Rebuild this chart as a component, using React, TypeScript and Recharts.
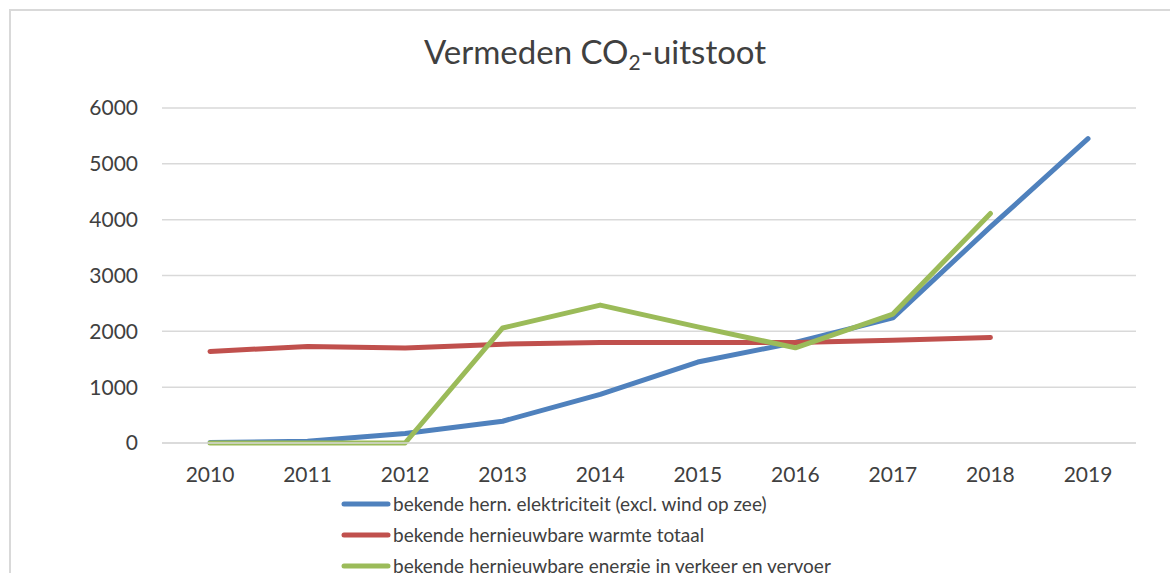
import React from "react";
import { LineChart, Line, XAxis, YAxis, CartesianGrid, Legend } from "recharts";

const years = ["2010", "2011", "2012", "2013", "2014", "2015", "2016", "2017", "2018", "2019"];
const elektriciteit = [10, 30, 170, 390, 870, 1450, 1800, 2240, 3870, 5450];
const warmte = [1640, 1730, 1700, 1770, 1800, 1800, 1800, 1840, 1890, null];
const verkeer = [0, 0, 0, 2060, 2470, 2080, 1705, 2310, 4110, null];
const yTicks = [0, 1000, 2000, 3000, 4000, 5000, 6000];

const seriesOrder = ["elektriciteit", "warmte", "verkeer"];
const seriesNames = {
  elektriciteit: "bekende hern. elektriciteit (excl. wind op zee)",
  warmte: "bekende hernieuwbare warmte totaal",
  verkeer: "bekende hernieuwbare energie in verkeer en vervoer",
};

const data = years.map((year, i) => ({
  year,
  elektriciteit: elektriciteit[i],
  warmte: warmte[i],
  verkeer: verkeer[i],
}));

const FONT = "Lato, 'Open Sans', sans-serif";
const TEXT = "#404040";

function LegendList({ payload }: any) {
  const items = [...(payload || [])].sort(
    (a: any, b: any) => seriesOrder.indexOf(a.dataKey) - seriesOrder.indexOf(b.dataKey)
  );
  return (
    <div style={{ fontFamily: FONT, fontSize: 19, color: TEXT }}>
      {items.map((p: any) => (
        <div key={p.value} style={{ display: "flex", alignItems: "center", height: 31 }}>
          <svg width={50} height={10} style={{ marginRight: 2 }}>
            <line x1={3} y1={5} x2={47} y2={5} stroke={p.color} strokeWidth={5} strokeLinecap="round" />
          </svg>
          <span>{p.value}</span>
        </div>
      ))}
    </div>
  );
}

export default function App() {
  return (
    <div
      style={{
        position: "absolute",
        left: 0,
        top: 0,
        width: 1170,
        height: 573,
        overflow: "hidden",
        background: "#fff",
      }}
    >
      <div
        style={{
          position: "absolute",
          left: 9,
          top: 9,
          width: 1300,
          height: 700,
          border: "2px solid #d9d9d9",
        }}
      />
      <div
        style={{
          position: "absolute",
          left: 0,
          width: 1190,
          top: 35,
          textAlign: "center",
          fontFamily: FONT,
          fontSize: 33,
          lineHeight: 1,
          color: TEXT,
        }}
      >
        Vermeden CO<sub style={{ fontSize: 21, verticalAlign: -6 }}>2</sub>-uitstoot
      </div>
      <LineChart
        width={1170}
        height={573}
        data={data}
        margin={{ top: 108, right: 34, left: 62, bottom: 90 }}
        style={{ position: "absolute", left: 0, top: 0 }}
      >
        <CartesianGrid vertical={false} stroke="#d9d9d9" strokeWidth={1.5} />
        <XAxis
          dataKey="year"
          height={40}
          tickSize={0}
          tickMargin={24}
          padding={{ left: 48, right: 48 }}
          axisLine={{ stroke: "#d9d9d9", strokeWidth: 1.5 }}
          tick={{ fill: TEXT, fontSize: 21, fontFamily: FONT }}
        />
        <YAxis
          width={100}
          domain={[0, 6000]}
          ticks={yTicks}
          tickSize={0}
          tickMargin={24}
          axisLine={false}
          tick={{ fill: TEXT, fontSize: 21, fontFamily: FONT }}
        />
        <Legend
          layout="vertical"
          align="center"
          verticalAlign="middle"
          content={<LegendList />}
          wrapperStyle={{ left: 341, top: 488, width: 760 }}
        />
        <Line
          dataKey="elektriciteit"
          name={seriesNames.elektriciteit}
          stroke="#4f81bd"
          strokeWidth={5}
          strokeLinecap="round"
          strokeLinejoin="round"
          dot={false}
          isAnimationActive={false}
        />
        <Line
          dataKey="warmte"
          name={seriesNames.warmte}
          stroke="#c0504d"
          strokeWidth={5}
          strokeLinecap="round"
          strokeLinejoin="round"
          dot={false}
          isAnimationActive={false}
        />
        <Line
          dataKey="verkeer"
          name={seriesNames.verkeer}
          stroke="#9bbb59"
          strokeWidth={5}
          strokeLinecap="round"
          strokeLinejoin="round"
          dot={false}
          isAnimationActive={false}
        />
      </LineChart>
    </div>
  );
}
